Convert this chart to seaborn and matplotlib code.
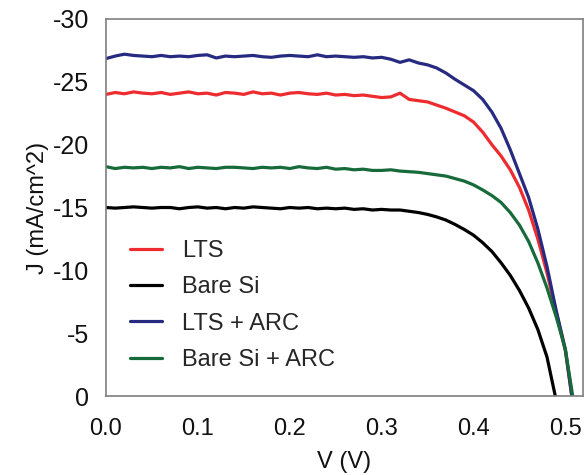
import matplotlib
matplotlib.use("Agg")
import matplotlib.pyplot as plt
import pandas as pd
import seaborn as sns

# sample voltages (V)
volts = [0.00, 0.01, 0.02, 0.03, 0.04, 0.05, 0.06, 0.07, 0.08, 0.09,
         0.10, 0.11, 0.12, 0.13, 0.14, 0.15, 0.16, 0.17, 0.18, 0.19,
         0.20, 0.21, 0.22, 0.23, 0.24, 0.25, 0.26, 0.27, 0.28, 0.29,
         0.30, 0.31, 0.32, 0.33, 0.34, 0.35, 0.36, 0.37, 0.38, 0.39,
         0.40, 0.41, 0.42, 0.43, 0.44, 0.45, 0.46, 0.47, 0.48, 0.49,
         0.50]

# current density (mA/cm^2)
j_lts = [-24.0, -24.15, -24.05, -24.2, -24.1, -24.05, -24.15, -24.0, -24.1, -24.2,
         -24.05, -24.1, -23.95, -24.15, -24.1, -24.0, -24.2, -24.05, -24.1, -23.95,
         -24.1, -24.15, -24.05, -24.0, -24.1, -23.95, -24.0, -23.9, -23.95, -23.85,
         -23.75, -23.8, -24.1, -23.6, -23.5, -23.4, -23.15, -22.9, -22.6, -22.3,
         -21.8, -21.0, -20.0, -19.1, -18.0, -16.6, -14.8, -12.5, -9.8, -6.7,
         -3.6, 0.0]
v_lts = volts + [0.507]

j_bare = [-15.0, -14.95, -15.0, -15.05, -15.0, -14.95, -15.0, -15.0, -14.9, -15.0,
          -15.05, -14.95, -15.0, -14.9, -15.0, -14.95, -15.05, -15.0, -14.95, -14.9,
          -15.0, -14.95, -15.0, -14.9, -14.95, -14.9, -14.95, -14.85, -14.9, -14.8,
          -14.85, -14.8, -14.8, -14.7, -14.6, -14.45, -14.25, -14.0, -13.65, -13.25,
          -12.8, -12.2, -11.5, -10.6, -9.6, -8.4, -7.0, -5.3, -3.1, 0.0]
v_bare = volts[:49] + [0.489]

j_lts_arc = [-26.85, -27.05, -27.2, -27.1, -27.05, -27.0, -27.1, -27.0, -27.05, -27.0,
             -27.1, -27.15, -26.9, -27.05, -27.0, -27.05, -27.1, -27.0, -26.95, -27.05,
             -27.1, -27.05, -27.0, -27.15, -27.0, -27.05, -27.0, -26.95, -27.0, -26.9,
             -26.95, -26.8, -26.55, -26.75, -26.5, -26.35, -26.1, -25.7, -25.2, -24.75,
             -24.3, -23.6, -22.6, -21.3, -19.6, -17.7, -15.8, -13.3, -10.3, -6.8,
             -3.7, 0.0]
v_lts_arc = volts + [0.507]

j_bare_arc = [-18.25, -18.1, -18.2, -18.15, -18.2, -18.1, -18.2, -18.15, -18.25, -18.1,
              -18.2, -18.15, -18.1, -18.2, -18.2, -18.15, -18.1, -18.2, -18.15, -18.2,
              -18.1, -18.25, -18.15, -18.1, -18.2, -18.05, -18.1, -18.0, -18.05, -17.95,
              -17.95, -18.0, -17.9, -17.85, -17.8, -17.7, -17.6, -17.5, -17.3, -17.1,
              -16.8, -16.4, -15.95, -15.4, -14.6, -13.6, -12.3, -10.6, -8.6, -6.3,
              -3.7, 0.0]
v_bare_arc = volts + [0.508]

series = [
    ("LTS", v_lts, j_lts, "#ee2b2e"),
    ("Bare Si", v_bare, j_bare, "#000000"),
    ("LTS + ARC", v_lts_arc, j_lts_arc, "#262a80"),
    ("Bare Si + ARC", v_bare_arc, j_bare_arc, "#176a3a"),
]


def main():
    sns.set_style("white")
    plt.rcParams["font.family"] = ["Liberation Sans", "DejaVu Sans"]

    fig = plt.figure(figsize=(5.84, 4.75), dpi=100)
    ax = fig.add_axes([0.1815, 0.1663, 0.8165, 0.7937])

    for name, v, j, c in series:
        df = pd.DataFrame({"V": v, "J": j})
        sns.lineplot(data=df, x="V", y="J", color=c, lw=2.3, label=name,
                     sort=False, estimator=None, ax=ax)

    ax.set_xlim(0, 0.519)
    ax.set_ylim(0, -30)
    ax.set_xticks([0.0, 0.1, 0.2, 0.3, 0.4, 0.5])
    ax.set_xticklabels(["0.0", "0.1", "0.2", "0.3", "0.4", "0.5"])
    ax.set_yticks([0, -5, -10, -15, -20, -25, -30])
    ax.set_yticklabels(["0", "-5", "-10", "-15", "-20", "-25", "-30"])

    for s in ax.spines.values():
        s.set_color("#7f7f7f")
        s.set_linewidth(1.2)
    ax.tick_params(direction="out", length=4, width=1, color="#7f7f7f",
                   labelcolor="#111111")
    ax.tick_params(axis="x", pad=12, labelsize=17)
    ax.tick_params(axis="y", pad=8, labelsize=18)

    ax.set_xlabel("V (V)", fontsize=17, labelpad=8, color="#111111")
    ax.set_ylabel("J (mA/cm^2)", fontsize=17, labelpad=3, color="#111111")

    ax.legend(loc="upper left", bbox_to_anchor=(0.05, 0.414), frameon=False,
              fontsize=17, handlelength=1.36, handletextpad=0.85,
              labelspacing=0.61, borderpad=0, borderaxespad=0)

    fig.savefig("out.png", dpi=100, facecolor="white")
    plt.close(fig)


if __name__ == "__main__":
    main()
